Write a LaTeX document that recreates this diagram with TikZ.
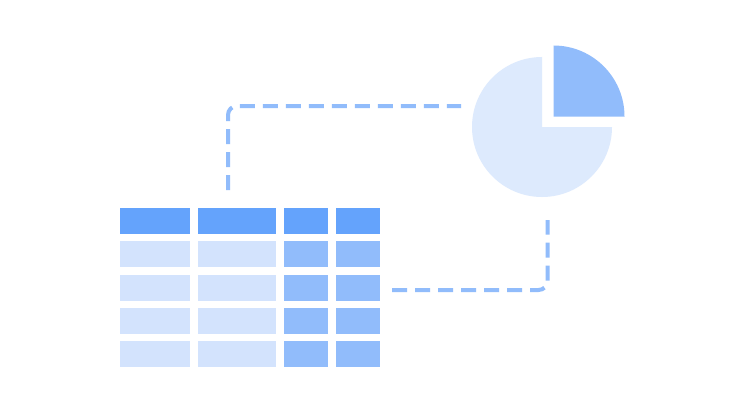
\documentclass[tikz,border=0pt]{standalone}
\usetikzlibrary{positioning}
\definecolor{headblue}{HTML}{64A3FC}
\definecolor{midblue}{HTML}{91BCFB}
\definecolor{paleblue}{HTML}{D3E3FD}
\definecolor{pieblue}{HTML}{DDEAFD}

\begin{document}
\begin{tikzpicture}[x=1pt,y=-1pt,node distance=7.3pt and 7.5pt,
    cell/.style={rectangle,inner sep=0pt,outer sep=0pt,minimum height=26pt},
    head cell/.style={cell,fill=headblue},
    pale cell/.style={cell,fill=paleblue},
    mid cell/.style={cell,fill=midblue},
    link/.style={draw=midblue,line width=4pt,dash pattern=on 15pt off 8pt,rounded corners=9pt}]

    \useasboundingbox[fill=white] (0,0) rectangle (744,412);

    % table
    \node[head cell][minimum width=70pt][anchor=north west](h1) at (120,208){};
    \node[head cell][minimum width=78pt](h2)[right=8pt of h1]{};
    \node[head cell][minimum width=44.5pt](h3)[right=of h2]{};
    \node[head cell][minimum width=44.5pt](h4)[right=of h3]{};

    \node[pale cell][minimum width=70pt](a1)[below=of h1]{};
    \node[pale cell][minimum width=78pt](a2)[below=of h2]{};
    \node[mid cell][minimum width=44.5pt](a3)[below=of h3]{};
    \node[mid cell][minimum width=44.5pt](a4)[below=of h4]{};

    \node[pale cell][minimum width=70pt](b1)[below=of a1]{};
    \node[pale cell][minimum width=78pt](b2)[below=of a2]{};
    \node[mid cell][minimum width=44.5pt](b3)[below=of a3]{};
    \node[mid cell][minimum width=44.5pt](b4)[below=of a4]{};

    \node[pale cell][minimum width=70pt](c1)[below=of b1]{};
    \node[pale cell][minimum width=78pt](c2)[below=of b2]{};
    \node[mid cell][minimum width=44.5pt](c3)[below=of b3]{};
    \node[mid cell][minimum width=44.5pt](c4)[below=of b4]{};

    \node[pale cell][minimum width=70pt](d1)[below=of c1]{};
    \node[pale cell][minimum width=78pt](d2)[below=of c2]{};
    \node[mid cell][minimum width=44.5pt](d3)[below=of c3]{};
    \node[mid cell][minimum width=44.5pt](d4)[below=of c4]{};

    % pie
    \coordinate (pie) at (542,127);
    \coordinate (slice) at (553.5,116.5);
    \fill[pieblue] (pie) -- ++(0,-70) arc[start angle=270,end angle=0,radius=70] -- cycle;
    \fill[midblue] (slice) -- ++(0,-71) arc[start angle=270,end angle=360,radius=71] -- cycle;

    % connectors
    \coordinate (t1) at (228,190);
    \coordinate (p1) at (461,106);
    \coordinate (t2) at (392,290);
    \coordinate (p2) at (547.5,220);
    \path[link] (t1) |- (p1);
    \path[link] (t2) -| (p2);

\end{tikzpicture}
\end{document}
